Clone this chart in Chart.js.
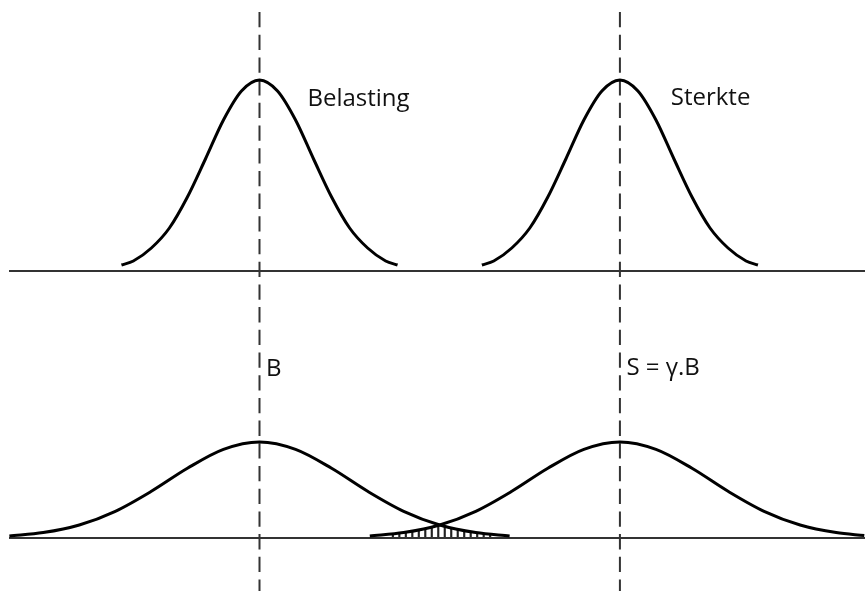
<!DOCTYPE html>
<html>
<head>
<meta charset="utf-8">
<script src="https://cdn.jsdelivr.net/npm/chart.js@4"></script>
<style>
  html, body { margin: 0; padding: 0; background: #fff; }
  #wrap { width: 865px; height: 591px; }
</style>
</head>
<body>
<div id="wrap"><canvas id="chart"></canvas></div>
<script>
// x in "load units": B sits at 0, S = γ.B sits at 10
// y: 0 = lower baseline, upper baseline sits at 26.7

// upper panel, narrow distributions
const belastingTopX = [-3.83, -3.5, -3, -2.5, -2, -1.5, -1, -0.5, 0, 0.5, 1, 1.5, 2, 2.5, 3, 3.5, 3.83];
const belastingTopY = [27.3, 27.7, 29.0, 31.0, 34.1, 37.9, 41.8, 44.7, 45.8, 44.7, 41.8, 37.9, 34.1, 31.0, 29.0, 27.7, 27.3];
const sterkteTopX = [6.17, 6.5, 7, 7.5, 8, 8.5, 9, 9.5, 10, 10.5, 11, 11.5, 12, 12.5, 13, 13.5, 13.83];
const sterkteTopY = [27.3, 27.7, 29.0, 31.0, 34.1, 37.9, 41.8, 44.7, 45.8, 44.7, 41.8, 37.9, 34.1, 31.0, 29.0, 27.7, 27.3];

// lower panel, wide distributions
const belastingLowX = [-6.94, -6, -5, -4, -3, -2, -1, 0, 1, 2, 3, 4, 5, 6, 6.94];
const belastingLowY = [0.20, 0.54, 1.30, 2.67, 4.67, 6.97, 8.86, 9.6, 8.86, 6.97, 4.67, 2.67, 1.30, 0.54, 0.20];
const sterkteLowX = [3.06, 4, 5, 6, 7, 8, 9, 10, 11, 12, 13, 14, 15, 16, 16.78];
const sterkteLowY = [0.20, 0.54, 1.30, 2.67, 4.67, 6.97, 8.86, 9.6, 8.86, 6.97, 4.67, 2.67, 1.30, 0.54, 0.24];

// hatching in the overlap (failure zone)
const hatchX = [3.70, 3.88, 4.06, 4.24, 4.42, 4.60, 4.78, 4.96, 5.14, 5.32, 5.50, 5.68, 5.86, 6.04, 6.22, 6.40];
const hatchY = [0.40, 0.48, 0.57, 0.67, 0.79, 0.93, 1.08, 1.26, 1.16, 1.00, 0.85, 0.73, 0.62, 0.52, 0.43, 0.36];

// axes lines
const baselineX = [-6.95, 16.8];
const baselineTop = 26.7;
const baselineLow = 0;
const meanX = [0, 10];
const meanSpanY = [52.6, -5.3];

// labels
const labelTexts = ['Belasting', 'Sterkte', 'B', 'S = \u03b3.B'];
const labelX = [1.33, 11.41, 0.18, 10.18];
const labelY = [43.2, 43.3, 16.2, 16.3];

const pts = (xs, ys) => xs.map((x, i) => ({ x: x, y: ys[i] }));

const curveStyle = {
  type: 'line',
  borderColor: '#000',
  borderWidth: 3,
  pointRadius: 0,
  fill: false,
  cubicInterpolationMode: 'monotone'
};
const axisStyle = {
  type: 'line',
  borderColor: '#333',
  borderWidth: 2,
  pointRadius: 0,
  fill: false,
  tension: 0
};

const datasets = [
  Object.assign({ label: 'Belasting (boven)', data: pts(belastingTopX, belastingTopY) }, curveStyle),
  Object.assign({ label: 'Sterkte (boven)', data: pts(sterkteTopX, sterkteTopY) }, curveStyle),
  Object.assign({ label: 'Belasting (onder)', data: pts(belastingLowX, belastingLowY) }, curveStyle),
  Object.assign({ label: 'Sterkte (onder)', data: pts(sterkteLowX, sterkteLowY) }, curveStyle),
  Object.assign({ label: 'as boven', data: pts(baselineX, [baselineTop, baselineTop]) }, axisStyle),
  Object.assign({ label: 'as onder', data: pts(baselineX, [baselineLow, baselineLow]) }, axisStyle),
  {
    type: 'bar',
    label: 'arcering',
    data: pts(hatchX, hatchY),
    backgroundColor: '#222',
    barThickness: 1.5,
    borderWidth: 0
  }
];

meanX.forEach(mx => {
  datasets.push(Object.assign({
    label: 'gemiddelde',
    data: pts([mx, mx], meanSpanY),
    borderDash: [15.3, 7.4]
  }, axisStyle));
});

const labelPlugin = {
  id: 'labels',
  afterDatasetsDraw(chart) {
    const ctx = chart.ctx;
    const xs = chart.scales.x, ys = chart.scales.y;
    ctx.save();
    ctx.fillStyle = '#111';
    ctx.font = '24px "Open Sans"';
    ctx.textBaseline = 'alphabetic';
    ctx.textAlign = 'left';
    labelTexts.forEach((t, i) => {
      ctx.fillText(t, xs.getPixelForValue(labelX[i]), ys.getPixelForValue(labelY[i]));
    });
    ctx.restore();
  }
};

new Chart(document.getElementById('chart'), {
  type: 'line',
  data: { datasets: datasets },
  options: {
    responsive: true,
    maintainAspectRatio: false,
    animation: false,
    layout: { padding: 0 },
    plugins: { legend: { display: false }, tooltip: { enabled: false } },
    scales: {
      x: { type: 'linear', min: -7.2, max: 16.8, offset: false, display: false },
      y: { type: 'linear', min: -5.3, max: 53.8, display: false }
    }
  },
  plugins: [labelPlugin]
});
</script>
</body>
</html>
